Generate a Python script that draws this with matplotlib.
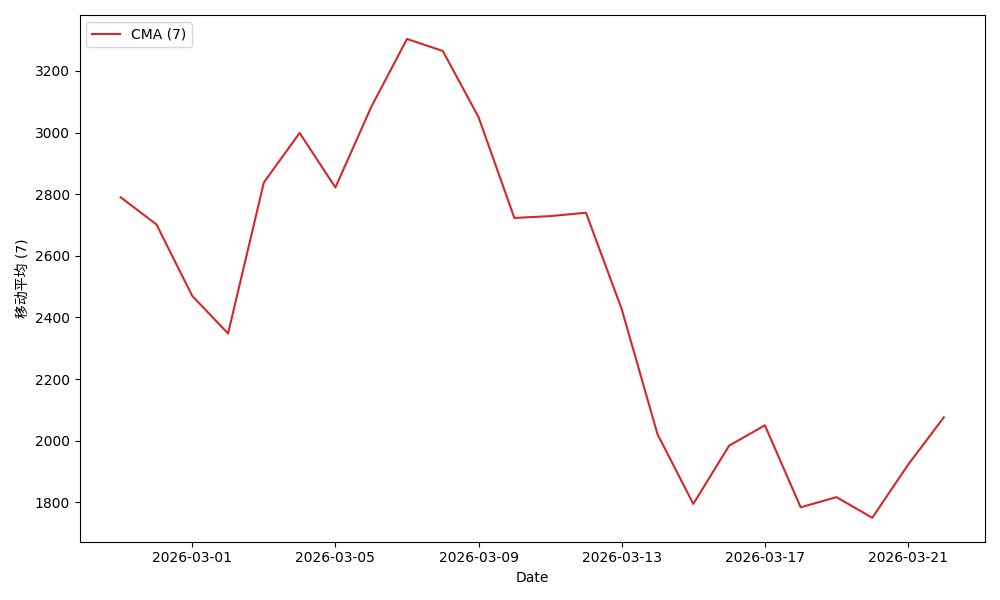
import pandas as pd
import numpy as np
import matplotlib.pyplot as plt

dates = pd.date_range("2026-02-27", "2026-03-22", freq="D")
cma = [2790, 2702, 2470, 2348, 2838, 2999, 2822, 3083, 3304, 3265, 3050, 2723,
       2729, 2740, 2427, 2021, 1795, 1984, 2050, 1784, 1817, 1750, 1922, 2076]

fig, ax = plt.subplots(figsize=(10, 6), dpi=100)
ax.plot(dates, cma, color='tab:red', label='CMA (7)')
ax.set_xlabel('Date')
ax.set_ylabel('移动平均 (7)', family=['DejaVu Sans', 'Noto Sans CJK SC'])
ax.legend(loc='upper left')
plt.tight_layout()
plt.savefig('out.png')
